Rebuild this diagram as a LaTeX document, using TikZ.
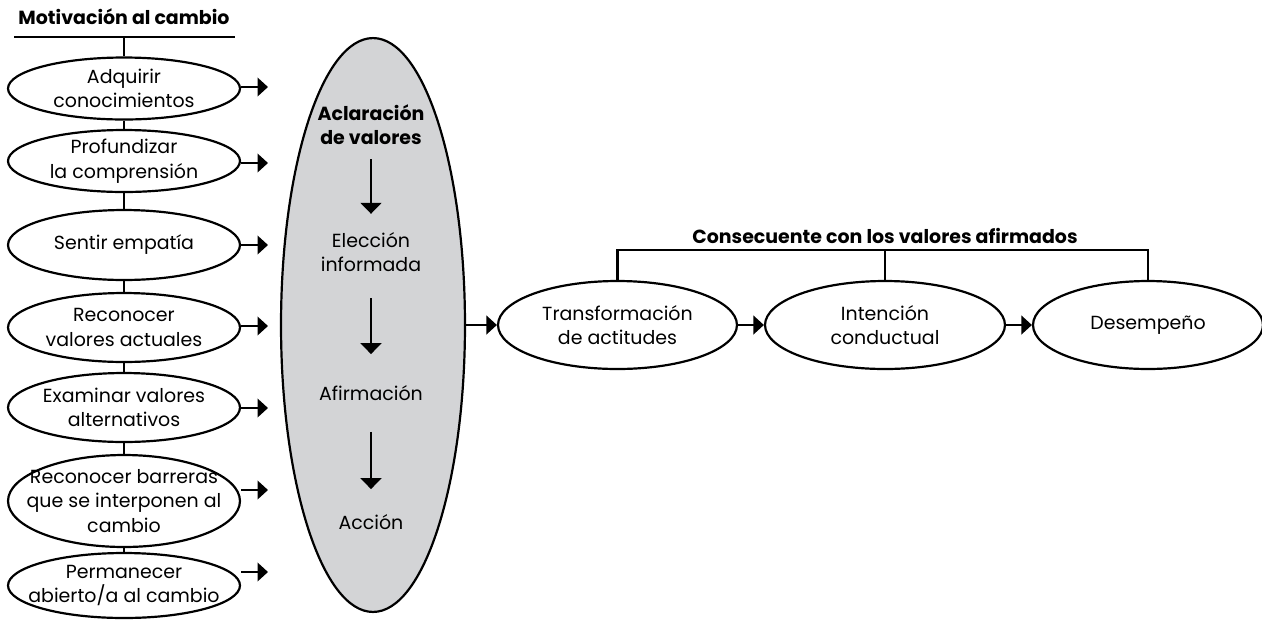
\documentclass[tikz,border=0pt]{standalone}
\usepackage{fontspec}
\setmainfont{Poppins}
\usetikzlibrary{shapes.geometric,arrows.meta,positioning}

\definecolor{valgray}{RGB}{211,212,214}
\newcommand{\ovalfont}{\fontsize{10.8}{14}\selectfont}

\tikzset{
  oval/.style={draw, ellipse, line width=1.25pt, align=center, font=\ovalfont,
    inner xsep=-0.4cm, inner ysep=-0.2cm, minimum width=4.64cm, minimum height=1.24cm},
  plain/.style={align=center, font=\ovalfont, inner sep=0pt},
  heading/.style={font=\ovalfont\bfseries, inner sep=0pt},
  link/.style={line width=1.25pt},
  sidearrow/.style={-{Triangle[length=0.21cm,width=0.37cm]}, line width=1.4pt},
  inarrow/.style={-{Triangle[length=0.22cm,width=0.42cm]}, line width=1pt}
}

\begin{document}
\begin{tikzpicture}[x=0.02cm, y=-0.02cm]
    \useasboundingbox (0,0) rectangle (1262,620);

    % left column
    \node[heading] (mot) at (124,17) {Motivación al cambio};
    \coordinate (ul1) at (14,37);
    \coordinate (ul2) at (235,37);
    \coordinate (ul) at (124,37);
    \draw[link] (ul1) -- (ul2);

    \node[oval] (e1) at (124,88.5) {Adquirir\\conocimientos};
    \node[oval] (e2) at (124,161) {Profundizar\\la comprensión};
    \node[oval, minimum height=1.4cm] (e3) at (124,245) {Sentir empatía};
    \node[oval, minimum height=1.38cm] (e4) at (124,327.5) {Reconocer\\valores actuales};
    \node[oval, minimum height=1.38cm] (e5) at (124,407.5) {Examinar valores\\alternativos};
    \node[oval, minimum height=1.84cm] (e6) at (124,501) {Reconocer barreras\\que se interponen al\\cambio};
    \node[oval, minimum height=1.3cm] (e7) at (124,585.5) {Permanecer\\abierto/a al cambio};

    \draw[link] (ul) -- (e1);
    \foreach \a/\b in {1/2,2/3,3/4,4/5,5/6,6/7}
        \draw[link] (e\a) -- (e\b);

    \foreach \i/\y in {1/87,2/163,3/245,4/326,5/408,6/490,7/572} {
        \coordinate (t\i) at (268,\y);
        \draw[sidearrow] (e\i.east |- t\i) -- (t\i);
    }

    % values clarification
    \node[draw, ellipse, fill=valgray, line width=1.25pt, inner sep=0pt,
          minimum width=3.68cm, minimum height=11.48cm] (val) at (373,325) {};
    \node[plain, font=\ovalfont\bfseries] (acl) at (371,124.5) {Aclaración\\de valores};
    \node[plain] (ele) at (371,252) {Elección\\informada};
    \node[plain] (afi) at (371,393) {Afirmación};
    \node[plain] (acc) at (371,522) {Acción};

    \draw[inarrow, shorten <=0.28cm, shorten >=0.36cm] (acl.south) -- (ele.north);
    \draw[inarrow, shorten <=0.52cm, shorten >=0.62cm] (ele.south) -- (afi.north);
    \draw[inarrow, shorten <=0.62cm, shorten >=0.5cm] (afi.south) -- (acc.north);

    % outcomes
    \node[oval, minimum width=4.78cm, minimum height=1.76cm] (tra) at (617.5,325) {Transformación\\de actitudes};
    \node[oval, minimum width=4.8cm, minimum height=1.76cm] (int) at (885,325) {Intención\\conductual};
    \node[oval, minimum width=4.6cm, minimum height=1.76cm] (des) at (1148,325) {Desempeño};

    \draw[sidearrow] (val) -- (tra);
    \draw[sidearrow] (tra) -- (int);
    \draw[sidearrow] (int) -- (des);

    \node[heading] (cons) at (885,236) {Consecuente con los valores afirmados};
    \coordinate (br) at (885,250);
    \draw[link] (tra.north) -- (tra.north |- br) -- (des.north |- br) -- (des.north);
    \draw[link] (int.north) -- (int.north |- br);
\end{tikzpicture}
\end{document}
